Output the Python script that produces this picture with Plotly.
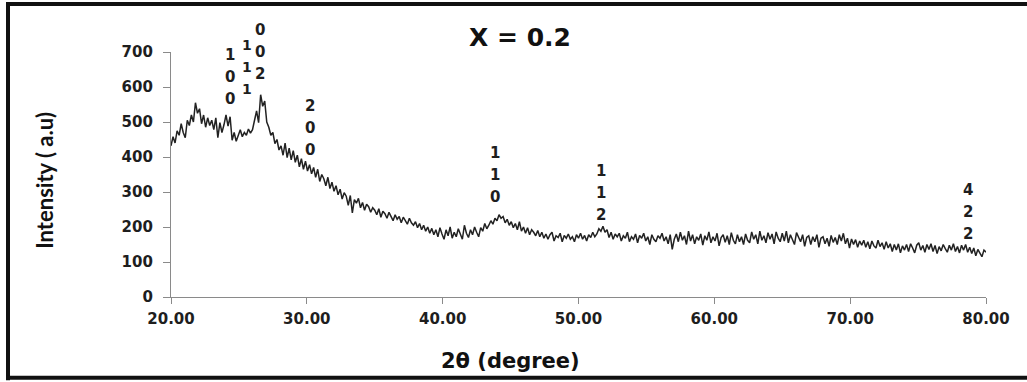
import plotly.graph_objects as go

# 2-theta scan, 20.00 to 80.00 degrees in 0.15 degree steps
two_theta_start = 20.0
two_theta_step = 0.15

intensity = [
    432, 458, 440, 475, 462, 495, 470, 455, 505, 490, 520, 500, 555, 525, 538, 495, 520, 485, 512, 490,
    505, 478, 512, 455, 498, 470, 492, 520, 488, 515, 448, 470, 445, 465, 478, 458, 470, 462, 480, 468,
    478, 505, 532, 498, 578, 545, 560, 500, 485, 462, 470, 438, 450, 420, 432, 405, 440, 398, 425, 392,
    418, 385, 405, 372, 395, 365, 388, 360, 378, 352, 370, 342, 365, 330, 350, 338, 318, 342, 310, 328,
    302, 318, 292, 308, 280, 298, 288, 262, 290, 240, 278, 268, 282, 255, 270, 248, 265, 258, 242, 255,
    248, 235, 252, 228, 245, 238, 225, 242, 230, 218, 235, 222, 230, 212, 228, 218, 208, 225, 212, 205,
    215, 198, 210, 192, 205, 188, 200, 182, 196, 178, 192, 172, 198, 180, 165, 192, 175, 200, 168, 185,
    172, 195, 178, 165, 205, 182, 170, 192, 178, 200, 185, 172, 198, 188, 210, 195, 205, 218, 208, 225,
    218, 235, 225, 230, 212, 222, 205, 215, 198, 210, 192, 215, 188, 200, 182, 198, 178, 192, 185, 175,
    190, 172, 185, 168, 180, 165, 178, 185, 160, 175, 170, 182, 158, 176, 168, 180, 165, 172, 158, 178,
    168, 182, 165, 176, 160, 178, 170, 185, 172, 180, 195, 188, 202, 185, 192, 170, 185, 165, 180, 172,
    182, 160, 175, 168, 185, 158, 172, 165, 180, 155, 176, 168, 182, 160, 172, 150, 178, 165, 158, 175,
    168, 182, 160, 172, 152, 178, 136, 165, 180, 158, 185, 162, 175, 150, 188, 160, 178, 152, 172, 162,
    180, 148, 175, 162, 186, 155, 172, 160, 182, 146, 170, 178, 156, 175, 150, 184, 162, 152, 178, 158,
    172, 150, 180, 162, 155, 186, 165, 178, 152, 188, 162, 175, 155, 184, 165, 180, 152, 186, 168, 158,
    182, 160, 188, 155, 178, 165, 150, 184, 168, 158, 178, 145, 170, 175, 150, 172, 158, 178, 142, 168,
    172, 152, 168, 145, 176, 156, 170, 150, 178, 160, 182, 152, 168, 140, 166, 150, 164, 142, 160, 148,
    162, 142, 158, 138, 160, 146, 140, 162, 144, 155, 136, 158, 140, 152, 130, 150, 134, 152, 126, 146,
    134, 150, 130, 152, 140, 126, 148, 155, 134, 147, 128, 150, 136, 152, 130, 147, 124, 144, 132, 150,
    138, 128, 148, 134, 152, 130, 144, 126, 148, 134, 150, 128, 142, 124, 140, 118, 136, 126, 115, 134,
    128,
]
two_theta = [round(two_theta_start + i * two_theta_step, 2) for i in range(len(intensity))]

# Miller-index labels, written as stacked digits above each reflection
peak_positions = [24.34, 25.57, 26.54, 30.22, 43.82, 51.69, 78.68]
peak_label_tops = [690, 719, 762, 545, 411, 360, 306]
peak_indices = ["100", "111", "002", "200", "110", "112", "422"]
peak_digit_sizes = [15, 14, 15, 15, 15, 15, 15]

x_ticks = [20, 30, 40, 50, 60, 70, 80]
y_ticks = [0, 100, 200, 300, 400, 500, 600, 700]
y_max = 700

W, H = 1027, 382
L, R, T, B = 171, 41, 52, 84.5
plot_w = W - L - R
plot_h = H - T - B


def px_x(p):
    return (p - L) / plot_w


def px_y(p):
    return (H - B - p) / plot_h


fig = go.Figure()
fig.add_trace(go.Scatter(
    x=two_theta, y=intensity, mode="lines",
    line=dict(color="#222222", width=1.5),
    hoverinfo="skip", showlegend=False,
))

tick_font = dict(family="DejaVu Sans", size=15, color="#1e1e1e", weight="bold")

annotations = []
digit_gap = 62.5  # intensity units between stacked index digits
for xpos, ytop, idx, fsize in zip(peak_positions, peak_label_tops, peak_indices, peak_digit_sizes):
    for k, ch in enumerate(idx):
        annotations.append(dict(
            x=xpos, y=(ytop - k * digit_gap) / y_max, xref="x", yref="paper",
            text=ch, showarrow=False,
            xanchor="center", yanchor="middle",
            font=dict(family="DejaVu Sans", size=fsize, color="#1e1e1e", weight="bold"),
        ))

annotations.append(dict(
    x=px_x(520), y=px_y(37), xref="paper", yref="paper",
    text="X = 0.2", showarrow=False, xanchor="center", yanchor="middle",
    font=dict(family="DejaVu Sans", size=25, color="#111111", weight="bold"),
))
annotations.append(dict(
    x=px_x(510), y=px_y(362), xref="paper", yref="paper",
    text="2θ (degree)", showarrow=False, xanchor="center", yanchor="middle",
    font=dict(family="DejaVu Sans", size=21, color="#111111", weight="bold"),
))
annotations.append(dict(
    x=px_x(45), y=px_y(181), xref="paper", yref="paper",
    text="Intensity ( a.u)", showarrow=False, textangle=-90,
    xanchor="center", yanchor="middle",
    font=dict(family="Lato", size=22, color="#111111", weight="bold"),
))

# frame around the figure (top, left, bottom edges)
frame = dict(color="#111111", width=4)
shapes = [
    dict(type="line", xref="paper", yref="paper", x0=px_x(6), x1=px_x(1040),
         y0=px_y(4), y1=px_y(4), line=frame),
    dict(type="line", xref="paper", yref="paper", x0=px_x(8), x1=px_x(8),
         y0=px_y(2), y1=px_y(381), line=frame),
    dict(type="line", xref="paper", yref="paper", x0=px_x(6), x1=px_x(1040),
         y0=px_y(378.5), y1=px_y(378.5), line=frame),
]

fig.update_layout(
    width=W, height=H,
    margin=dict(l=L, r=R, t=T, b=B, pad=0),
    paper_bgcolor="white", plot_bgcolor="white",
    annotations=annotations, shapes=shapes,
    xaxis=dict(
        range=[20, 80], tickvals=x_ticks, tickformat=".2f",
        showline=True, linecolor="#8a8a8a", linewidth=1.3,
        ticks="outside", ticklen=6, tickcolor="#8a8a8a", tickwidth=1.3,
        showgrid=False, zeroline=False, tickfont=tick_font,
        ticklabelstandoff=2,
    ),
    yaxis=dict(
        range=[0, y_max], tickvals=y_ticks,
        showline=True, linecolor="#8a8a8a", linewidth=1.3,
        ticks="outside", ticklen=7, tickcolor="#8a8a8a", tickwidth=1.3,
        showgrid=False, zeroline=False, tickfont=tick_font,
        ticklabelstandoff=7,
    ),
)

fig.write_html("out.html")
